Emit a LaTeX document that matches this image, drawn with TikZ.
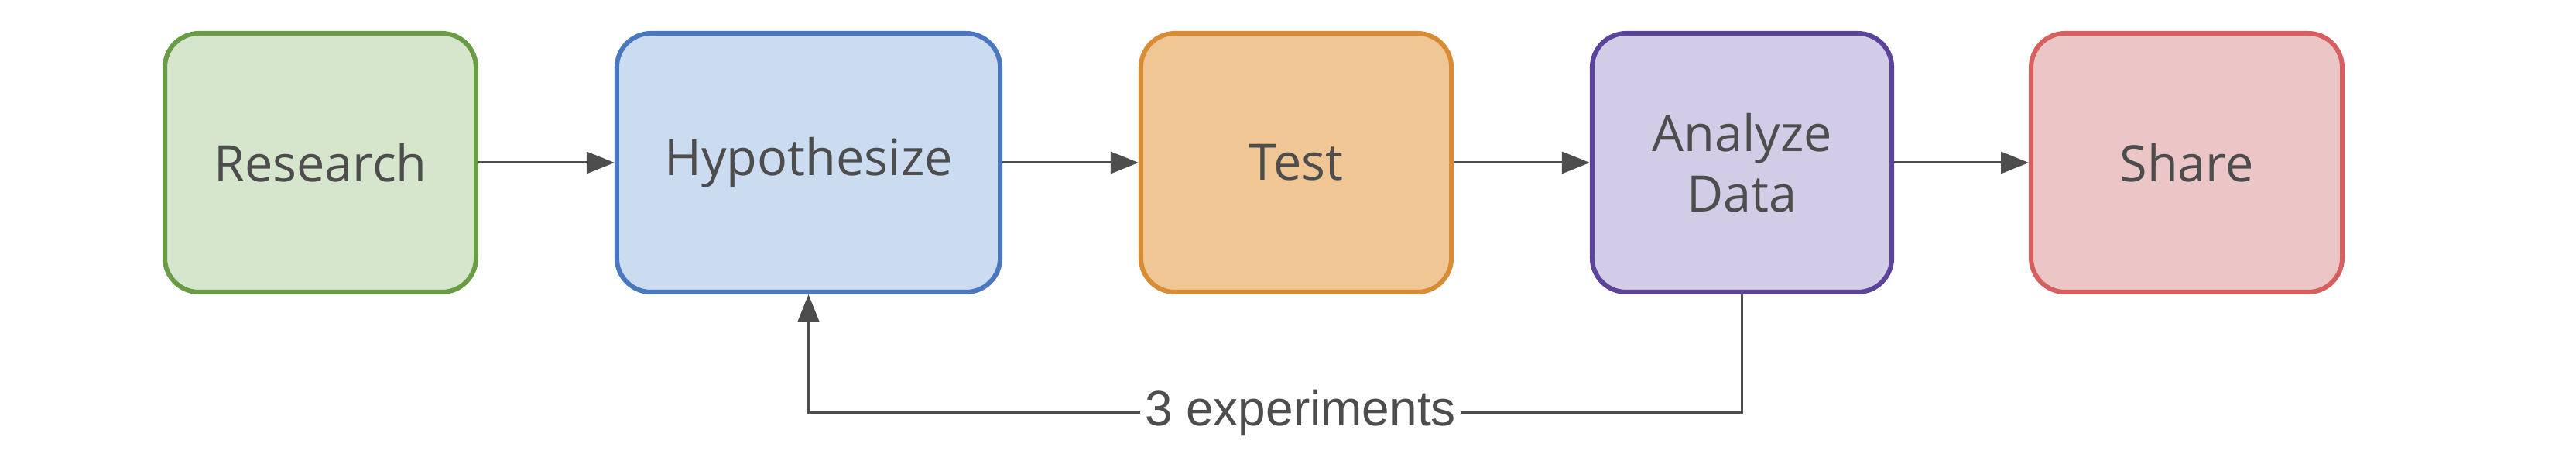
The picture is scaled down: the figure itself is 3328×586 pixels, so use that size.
\documentclass[tikz,border=0pt]{standalone}
\usepackage{fontspec}
\setmainfont{Open Sans}
\newfontfamily\labfont{Liberation Sans}
\usetikzlibrary{arrows.meta}
\definecolor{txt}{HTML}{4D4D4D}
\definecolor{gfill}{HTML}{D6E6CD}\definecolor{gdraw}{HTML}{6A9B45}
\definecolor{bfill}{HTML}{CCDCF0}\definecolor{bdraw}{HTML}{4A78C0}
\definecolor{ofill}{HTML}{F0C794}\definecolor{odraw}{HTML}{D88C36}
\definecolor{pfill}{HTML}{D2CCE6}\definecolor{pdraw}{HTML}{5B449A}
\definecolor{rfill}{HTML}{ECC6C6}\definecolor{rdraw}{HTML}{D66060}
\tikzset{
  stepbox/.style={rectangle, rounded corners=11pt, line width=1.5pt, minimum height=83.5pt,
    inner sep=0pt, align=center, text=txt, font=\fontsize{16.2}{19.5}\selectfont},
  arr/.style={draw=txt, line width=0.75pt, -{Triangle[length=9pt,width=7pt]}},
  lab/.style={fill=white, text=txt, font=\labfont\fontsize{16}{19}\selectfont, inner sep=1.5pt}
}
\begin{document}
\begin{tikzpicture}[x=0.25pt,y=-0.25pt]
\useasboundingbox (0,0) rectangle (3328,586);
\node[stepbox, fill=gfill, draw=gdraw, minimum width=100.5pt] (res) at (414,210) {Research};
\node[stepbox, fill=bfill, draw=bdraw, minimum width=123.8pt] (hyp) at (1044.5,210) {Hypothesize};
\node[stepbox, fill=ofill, draw=odraw, minimum width=100.3pt] (tst) at (1674.5,210) {Test};
\node[stepbox, fill=pfill, draw=pdraw, minimum width=96.8pt] (ana) at (2250.5,210) {Analyze\\Data};
\node[stepbox, fill=rfill, draw=rdraw, minimum width=100.5pt] (shr) at (2825,210) {Share};
\draw[arr] (res.east) -- (hyp.west);
\draw[arr] (hyp.east) -- (tst.west);
\draw[arr] (tst.east) -- (ana.west);
\draw[arr] (ana.east) -- (shr.west);
\draw[arr] (ana.south) -- (ana.south |- 0,533) -- node[lab, pos=0.473] {3 experiments} (hyp.south |- 0,533) -- (hyp.south);
\end{tikzpicture}
\end{document}
